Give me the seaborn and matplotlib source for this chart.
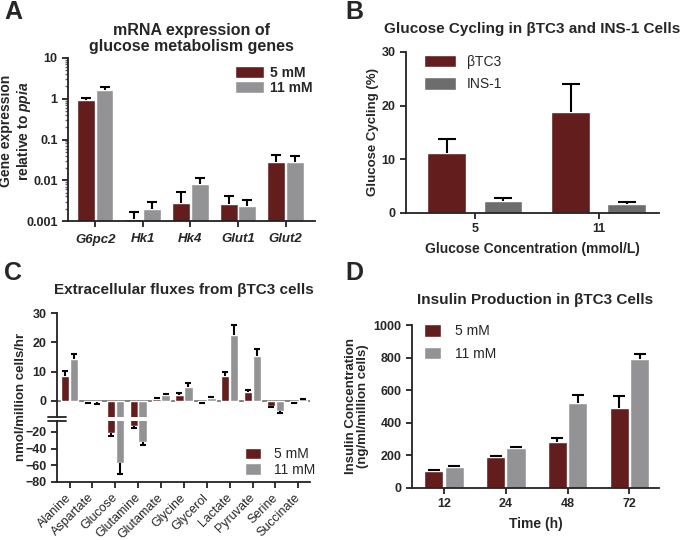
import numpy as np
import pandas as pd
import seaborn as sns
import matplotlib.pyplot as plt
from matplotlib.ticker import FuncFormatter

sns.set_style('ticks')
plt.rcParams['font.family'] = ['Liberation Sans', 'DejaVu Sans']
plt.rcParams['font.weight'] = 'bold'
plt.rcParams['axes.labelweight'] = 'bold'
plt.rcParams['mathtext.fontset'] = 'custom'
plt.rcParams['mathtext.it'] = 'Liberation Sans:italic:bold'
plt.rcParams['mathtext.rm'] = 'Liberation Sans:bold'

RED = '#6e1212'
LGRAY = '#939397'
DGRAY = '#6d6d6d'

# panel A - mRNA expression
genes = ['G6pc2', 'Hk1', 'Hk4', 'Glut1', 'Glut2']
mrna_5 = [0.94, 0.0011, 0.0028, 0.0026, 0.028]
mrna_5_err = [0.13, 0.0006, 0.0024, 0.0014, 0.014]
mrna_11 = [1.66, 0.0020, 0.0083, 0.0024, 0.028]
mrna_11_err = [0.24, 0.0010, 0.0032, 0.0008, 0.011]

# panel B - glucose cycling
conc = ['5', '11']
cyc_btc3 = [11.2, 18.8]
cyc_btc3_err = [2.5, 5.2]
cyc_ins1 = [2.3, 1.6]
cyc_ins1_err = [0.5, 0.4]

# panel C - extracellular fluxes
metabolites = ['Alanine', 'Aspartate', 'Glucose', 'Glutamine', 'Glutamate',
               'Glycine', 'Glycerol', 'Lactate', 'Pyruvate', 'Serine', 'Succinate']
flux_5 = [8.5, -0.4, -21.5, -13.0, 0.7, 2.0, -0.4, 8.5, 3.0, -1.7, -0.7]
flux_5_err = [1.8, 0.3, 3.5, 2.0, 0.3, 0.8, 0.4, 1.5, 0.7, 0.4, 0.0]
flux_11 = [14.2, -0.5, -57.0, -32.0, 2.0, 4.7, 0.9, 22.5, 15.2, -3.5, 0.6]
flux_11_err = [1.7, 0.4, 13.0, 4.0, 0.5, 1.5, 0.3, 3.5, 2.5, 0.7, 0.0]

# panel D - insulin production
times = ['12', '24', '48', '72']
ins_5 = [105, 192, 284, 490]
ins_5_err = [5, 4, 20, 75]
ins_11 = [126, 243, 520, 790]
ins_11_err = [6, 6, 51, 34]


def long_df(cats, name1, v1, e1, name2, v2, e2):
    a = pd.DataFrame({'cat': cats, 'grp': name1, 'val': v1, 'err': e1})
    b = pd.DataFrame({'cat': cats, 'grp': name2, 'val': v2, 'err': e2})
    return pd.concat([a, b], ignore_index=True)


def add_err(ax, conts, df, groups, cap=7):
    for cont, g in zip(conts, groups):
        sub = df[df.grp == g]
        v = sub.val.values
        e = sub.err.values
        xs = np.array([p.get_x() + p.get_width() / 2 for p in cont.patches])
        lo = np.where(v < 0, e, 0)
        hi = np.where(v >= 0, e, 0)
        ax.errorbar(xs, v, yerr=[lo, hi], fmt='none', ecolor='black',
                    elinewidth=1.5, capsize=0, zorder=1)
        tip = v + np.where(v < 0, -e, e)
        ax.plot(xs, tip, ls='none', marker='_', ms=cap, mew=1.5, color='black')


def style_ax(ax):
    sns.despine(ax=ax)
    for s in ['left', 'bottom']:
        ax.spines[s].set_linewidth(1.3)
        ax.spines[s].set_color('#222222')
    ax.tick_params(width=1.3, length=4, labelsize=9, color='#222222')
    ax.set_xlabel('')


fig = plt.figure(figsize=(6.88, 5.40), dpi=100)
W, H = 688, 540


def box(l, t, r, b):
    return [l / W, 1 - b / H, (r - l) / W, (b - t) / H]


# ---------------- A
axA = fig.add_axes(box(68, 58, 315, 221))
dfA = long_df(genes, '5 mM', mrna_5, mrna_5_err, '11 mM', mrna_11, mrna_11_err)
sns.barplot(data=dfA, x='cat', y='val', hue='grp', palette={'5 mM': RED, '11 mM': LGRAY},
            errorbar=None, width=0.78, gap=0.05, ax=axA, legend=False)
axA.set_yscale('log')
contsA = list(axA.containers[:2])
add_err(axA, contsA, dfA, ['5 mM', '11 mM'])
axA.set_ylim(0.001, 10)
axA.set_xlim(-0.575, 4.62)
axA.yaxis.set_major_formatter(FuncFormatter(lambda v, p: '{:g}'.format(v)))
style_ax(axA)
axA.tick_params(axis='x', pad=5, labelsize=9.5)
axA.tick_params(axis='y', which='minor', length=2.5, width=1, color='#666666')
for t in axA.get_xticklabels():
    t.set_style('italic')
axA.set_ylabel('')
fig.text(16 / W, 1 - 131 / H, 'Gene expression\nrelative to $\\it{ppia}$', rotation=90,
         ha='center', va='center', fontsize=10, weight='bold', linespacing=1.1)
axA.set_title('mRNA expression of\nglucose metabolism genes', fontsize=11.5, weight='bold',
              pad=5, linespacing=1.05)
axA.legend(contsA, ['5 mM', '11 mM'], loc='upper right', bbox_to_anchor=(1.04, 1.03),
           frameon=False, handlelength=2.1, handleheight=0.9, handletextpad=0.4,
           prop={'weight': 'bold', 'size': 10}, labelspacing=0.1)

# ---------------- B
axB = fig.add_axes(box(406, 52, 659, 213))
dfB = long_df(conc, 'βTC3', cyc_btc3, cyc_btc3_err, 'INS-1', cyc_ins1, cyc_ins1_err)
sns.barplot(data=dfB, x='cat', y='val', hue='grp', palette={'βTC3': RED, 'INS-1': DGRAY},
            errorbar=None, width=0.91, gap=0.31, ax=axB, legend=False)
contsB = list(axB.containers[:2])
add_err(axB, contsB, dfB, ['βTC3', 'INS-1'], cap=13)
axB.set_ylim(0, 30)
axB.set_yticks([0, 10, 20, 30])
axB.set_xlim(-0.556, 1.487)
style_ax(axB)
axB.set_ylabel('Glucose Cycling (%)', fontsize=9.5, labelpad=2)
axB.set_xlabel('Glucose Concentration (mmol/L)', fontsize=10, labelpad=5)
axB.set_title('Glucose Cycling in βTC3 and INS-1 Cells', fontsize=11, weight='bold', pad=14)
axB.legend(contsB, ['βTC3', 'INS-1'], loc='upper left', bbox_to_anchor=(0.02, 1.06),
           frameon=False, handlelength=2.3, handleheight=1.0,
           prop={'weight': 'normal', 'size': 10}, labelspacing=0.6)

# ---------------- C (broken axis)
axCt = fig.add_axes(box(57, 313, 310, 417))
axCb = fig.add_axes(box(57, 421, 310, 482))
dfC = long_df(metabolites, '5 mM', flux_5, flux_5_err, '11 mM', flux_11, flux_11_err)
for ax in [axCt, axCb]:
    sns.barplot(data=dfC, x='cat', y='val', hue='grp', palette={'5 mM': RED, '11 mM': LGRAY},
                errorbar=None, width=0.78, gap=0.05, ax=ax, legend=False)
    conts = list(ax.containers[:2])
    add_err(ax, conts, dfC, ['5 mM', '11 mM'], cap=5)
    ax.set_xlim(-0.55, 10.51)
    style_ax(ax)
    ax.set_ylabel('')
contsC = list(axCb.containers[:2])
axCt.set_ylim(-5.5, 30)
axCt.set_yticks([0, 10, 20, 30])
axCt.spines['bottom'].set_visible(False)
axCt.tick_params(axis='x', bottom=False, labelbottom=False)
axCt.axhline(0, color='#777777', lw=1.3, zorder=0.5)
axCb.set_ylim(-80, -7)
axCb.set_yticks([-80, -60, -40, -20])
axCb.tick_params(axis='x', pad=6)
plt.setp(axCb.get_xticklabels(), rotation=45, ha='right', va='center',
         rotation_mode='anchor', weight='normal', fontsize=9)
for ax, yy in [(axCt, 0), (axCb, 1)]:
    ax.plot([-0.035, 0.035], [yy, yy], transform=ax.transAxes, clip_on=False,
            color='#222222', lw=1.3)
fig.text(21 / W, 1 - 397 / H, 'nmol/million cells/hr', rotation=90, ha='center', va='center',
         fontsize=9.5, weight='bold')
axCt.set_title('Extracellular fluxes from βTC3 cells', fontsize=11, weight='bold', pad=14)
axCb.legend(contsC, ['5 mM', '11 mM'], loc='lower right', bbox_to_anchor=(1.07, -0.12),
            frameon=False, handlelength=1.15, handleheight=0.9, handletextpad=0.9,
            prop={'weight': 'normal', 'size': 10}, labelspacing=0.1)

# ---------------- D
axD = fig.add_axes(box(412, 325, 659, 488))
dfD = long_df(times, '5 mM', ins_5, ins_5_err, '11 mM', ins_11, ins_11_err)
sns.barplot(data=dfD, x='cat', y='val', hue='grp', palette={'5 mM': RED, '11 mM': LGRAY},
            errorbar=None, width=0.66, gap=0.06, ax=axD, legend=False)
contsD = list(axD.containers[:2])
add_err(axD, contsD, dfD, ['5 mM', '11 mM'], cap=8)
axD.set_ylim(0, 1000)
axD.set_yticks(range(0, 1001, 200))
axD.set_xlim(-0.52, 3.48)
style_ax(axD)
axD.set_ylabel('Insulin Concentration\n(ng/ml/million cells)', fontsize=9.5, labelpad=3,
               linespacing=1.1)
axD.set_xlabel('Time (h)', fontsize=10, labelpad=5)
axD.set_title('Insulin Production in βTC3 Cells', fontsize=11, weight='bold', pad=15)
axD.legend(contsD, ['5 mM', '11 mM'], loc='upper left', bbox_to_anchor=(0.0, 1.08),
           frameon=False, handlelength=1.2, handleheight=1.0, handletextpad=1.0,
           prop={'weight': 'normal', 'size': 10}, labelspacing=0.6)

# panel letters
for lab, x, y in [('A', 4, 0), ('B', 345, 0), ('C', 4, 261), ('D', 345, 261)]:
    fig.text(x / W, 1 - y / H, lab, fontsize=18, weight='bold', va='top', ha='left')

fig.savefig('out.png', dpi=100)
